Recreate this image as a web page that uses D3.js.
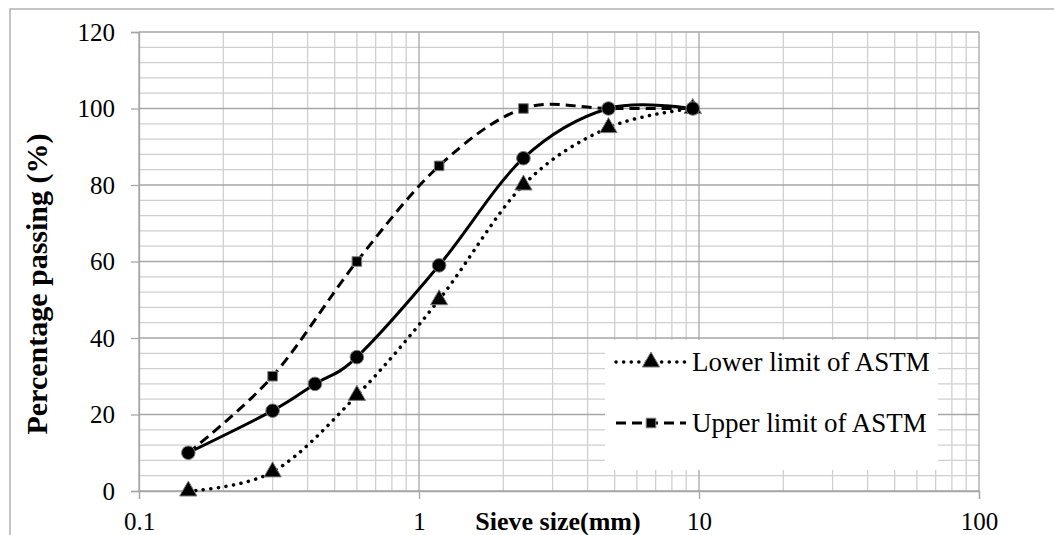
<!DOCTYPE html>
<html>
<head>
<meta charset="utf-8">
<script src="https://cdn.jsdelivr.net/npm/d3@7"></script>
<style>
  body { margin: 0; background: #fff; }
  text { font-family: "Liberation Serif", "Times New Roman", serif; fill: #000; }
</style>
</head>
<body>
<div id="chart"></div>
<script>
// sieve sizes (mm)
const sieveSizes = [0.15, 0.3, 0.6, 1.18, 2.36, 4.75, 9.5];
const lowerLimit = [0, 5, 25, 50, 80, 95, 100];
const upperLimit = [10, 30, 60, 85, 100, 100, 100];
// sample gradation (has the extra 0.425 sieve)
const sampleSizes = [0.15, 0.3, 0.425, 0.6, 1.18, 2.36, 4.75, 9.5];
const samplePassing = [10, 21, 28, 35, 59, 87, 100, 100];

const xTicks = [0.1, 1, 10, 100];
const yTicks = [0, 20, 40, 60, 80, 100, 120];
const legendNames = ["Lower limit of ASTM", "Upper limit of ASTM"];

const width = 1054, height = 535;
const plotLeft = 139, plotRight = 979, plotTop = 32, plotBottom = 491;

const svg = d3.select("#chart").append("svg")
    .attr("width", width)
    .attr("height", height);

// outer chart border
svg.append("rect")
    .attr("x", 10).attr("y", 9)
    .attr("width", width + 20).attr("height", height + 20)
    .attr("fill", "none")
    .attr("stroke", "#a6a6a6")
    .attr("stroke-width", 1.3);

const x = d3.scaleLog().domain([0.1, 100]).range([plotLeft, plotRight]);
const y = d3.scaleLinear().domain([0, 120]).range([plotBottom, plotTop]);

// minor gridlines
const xMinor = [];
[0.1, 1, 10].forEach(d => { for (let k = 2; k <= 9; k++) xMinor.push(d * k); });
const yMinor = d3.range(0, 121, 4).filter(v => v % 20 != 0);

const grid = svg.append("g");
grid.selectAll(".xminor").data(xMinor).enter().append("line")
    .attr("x1", d => x(d)).attr("x2", d => x(d))
    .attr("y1", plotTop).attr("y2", plotBottom)
    .attr("stroke", "#d0d0d0").attr("stroke-width", 1.3);
grid.selectAll(".yminor").data(yMinor).enter().append("line")
    .attr("x1", plotLeft).attr("x2", plotRight)
    .attr("y1", d => y(d)).attr("y2", d => y(d))
    .attr("stroke", "#d0d0d0").attr("stroke-width", 1.3);
// major gridlines
grid.selectAll(".xmajor").data(xTicks).enter().append("line")
    .attr("x1", d => x(d)).attr("x2", d => x(d))
    .attr("y1", plotTop).attr("y2", plotBottom)
    .attr("stroke", "#a6a6a6").attr("stroke-width", 1.3);
grid.selectAll(".ymajor").data(yTicks).enter().append("line")
    .attr("x1", plotLeft).attr("x2", plotRight)
    .attr("y1", d => y(d)).attr("y2", d => y(d))
    .attr("stroke", "#a6a6a6").attr("stroke-width", 1.3);

// axes
const yAxis = svg.append("g")
    .attr("transform", "translate(" + plotLeft + ",0)")
    .call(d3.axisLeft(y).tickValues(yTicks).tickSize(8).tickPadding(16).tickFormat(d3.format("d")));
const xAxis = svg.append("g")
    .attr("transform", "translate(0," + plotBottom + ")")
    .call(d3.axisBottom(x).tickValues(xTicks).tickSize(8).tickPadding(13).tickFormat(d => String(d)));
[xAxis, yAxis].forEach(a => {
    a.attr("font-family", null);
    a.select(".domain").attr("stroke", "#a6a6a6").attr("stroke-width", 1.3);
    a.selectAll(".tick line").attr("stroke", "#a6a6a6").attr("stroke-width", 1.3);
    a.selectAll("text").attr("font-size", 25).attr("fill", "#000");
});

// axis titles
svg.append("text")
    .attr("x", 558).attr("y", 530)
    .attr("text-anchor", "middle")
    .attr("font-size", 26).attr("font-weight", "bold")
    .text("Sieve size(mm)");
svg.append("text")
    .attr("transform", "translate(47,284) rotate(-90)")
    .attr("text-anchor", "middle")
    .attr("font-size", 30).attr("font-weight", "bold")
    .text("Percentage passing (%)");

const line = d3.line()
    .x(d => x(d[0])).y(d => y(d[1]))
    .curve(d3.curveCardinal.tension(0));

const lowerPts = sieveSizes.map((s, i) => [s, lowerLimit[i]]);
const upperPts = sieveSizes.map((s, i) => [s, upperLimit[i]]);
const samplePts = sampleSizes.map((s, i) => [s, samplePassing[i]]);

svg.append("path").datum(lowerPts).attr("d", line)
    .attr("fill", "none").attr("stroke", "#000").attr("stroke-width", 3.5)
    .attr("stroke-linecap", "round").attr("stroke-dasharray", "0.1 7.5");
svg.append("path").datum(upperPts).attr("d", line)
    .attr("fill", "none").attr("stroke", "#000").attr("stroke-width", 3)
    .attr("stroke-dasharray", "10 6");
svg.append("path").datum(samplePts).attr("d", line)
    .attr("fill", "none").attr("stroke", "#000").attr("stroke-width", 3);

const tri = d3.symbol().type(d3.symbolTriangle).size(130);
const sq = d3.symbol().type(d3.symbolSquare).size(92);

svg.selectAll(".tri").data(lowerPts).enter().append("path")
    .attr("d", tri)
    .attr("transform", d => "translate(" + x(d[0]) + "," + y(d[1]) + ")")
    .attr("fill", "#000").attr("stroke", "#7f7f7f").attr("stroke-width", 1);
svg.selectAll(".sq").data(upperPts).enter().append("path")
    .attr("d", sq)
    .attr("transform", d => "translate(" + x(d[0]) + "," + y(d[1]) + ")")
    .attr("fill", "#000").attr("stroke", "#7f7f7f").attr("stroke-width", 1);
svg.selectAll(".dot").data(samplePts).enter().append("circle")
    .attr("cx", d => x(d[0])).attr("cy", d => y(d[1]))
    .attr("r", 6.8)
    .attr("fill", "#000").attr("stroke", "#7f7f7f").attr("stroke-width", 1);

// legend
const legend = svg.append("g");
legend.append("rect")
    .attr("x", 605).attr("y", 340).attr("width", 333).attr("height", 130)
    .attr("fill", "#fff");
const legRows = [362, 423];
legend.append("line")
    .attr("x1", 616).attr("x2", 686).attr("y1", legRows[0]).attr("y2", legRows[0])
    .attr("stroke", "#000").attr("stroke-width", 3.5)
    .attr("stroke-linecap", "round").attr("stroke-dasharray", "0.1 7.5");
legend.append("path").attr("d", tri)
    .attr("transform", "translate(651," + legRows[0] + ")")
    .attr("fill", "#000").attr("stroke", "#7f7f7f").attr("stroke-width", 1);
legend.append("line")
    .attr("x1", 616).attr("x2", 686).attr("y1", legRows[1]).attr("y2", legRows[1])
    .attr("stroke", "#000").attr("stroke-width", 3)
    .attr("stroke-dasharray", "10 6");
legend.append("path").attr("d", sq)
    .attr("transform", "translate(651," + legRows[1] + ")")
    .attr("fill", "#000").attr("stroke", "#7f7f7f").attr("stroke-width", 1);
legend.selectAll(".lt").data(legendNames).enter().append("text")
    .attr("x", 692).attr("y", (d, i) => legRows[i] + 9)
    .attr("font-size", 27)
    .text(d => d);
</script>
</body>
</html>
